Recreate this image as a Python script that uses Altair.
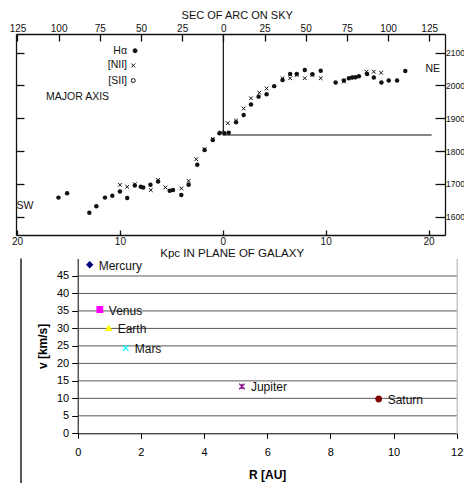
import altair as alt
import pandas as pd

# ---------------- data: top panel (mirrored scan of a rotation curve) ----------------
ha_kpc = [-15.97, -15.13, -12.97, -12.29, -11.45, -10.74, -10.0, -9.29, -8.55, -7.97,
          -7.74, -7.03, -6.29, -5.16, -4.84, -4.03, -3.32, -2.48, -1.77, -0.97,
          -0.32, 0.16, 0.58, 1.29, 2.03, 2.74, 3.48, 4.26, 5.0, 5.81,
          6.55, 7.19, 7.97, 8.71, 9.52, 10.97, 11.77, 12.26, 12.58, 12.9,
          13.23, 14.03, 14.68, 15.42, 16.13, 16.94, 17.74]
ha_v = [1658, 1671, 1612, 1632, 1658, 1664, 1677, 1657, 1695, 1691,
        1689, 1697, 1707, 1679, 1681, 1666, 1697, 1758, 1803, 1834,
        1854, 1854, 1856, 1888, 1910, 1942, 1966, 1973, 1998, 2017,
        2035, 2035, 2047, 2034, 2045, 2009, 2015, 2022, 2024, 2025,
        2028, 2035, 2024, 2009, 2015, 2015, 2044]
nii_kpc = [-10.0, -9.29, -8.55, -7.0, -6.29, -5.58, -4.03, -3.32, -2.58, -1.77,
           -0.97, -0.16, 0.48, 1.29, 2.03, 2.74, 3.55, 4.26, 5.81, 6.55,
           7.19, 7.97, 8.71, 9.52, 11.77, 12.74, 13.97, 14.68, 15.39]
nii_v = [1697, 1691, 1699, 1681, 1712, 1689, 1686, 1709, 1775, 1806,
         1837, 1857, 1885, 1893, 1930, 1961, 1978, 1991, 2022, 2022,
         2032, 2022, 2032, 2022, 2012, 2025, 2042, 2042, 2039]
kpc_ticks = [-20, -10, 0, 10, 20]
arc_ticks = [-125, -100, -75, -50, -25, 0, 25, 50, 75, 100, 125]
vel_ticks = [1600, 1700, 1800, 1900, 2000, 2100]
systemic_v = 1849
hline_kpc = [0.0, 20.3]
vline_top_v = 2157

ann_text = ["MAJOR AXIS", "NE", "SW"]
ann_arc = [-88.5, 127.2, -120.4]
ann_v = [1966, 2050, 1633]
legend_text = ["H\u03b1", "[NII]", "[SII]"]
legend_text_arc = [-58.5, -58.5, -58.5]
legend_sym_arc = [-53.6, -54.7, -54.7]
legend_v = [2106, 2061, 2015]

# ---------------- data: bottom panel (planet velocities) ----------------
planets = ["Mercury", "Venus", "Earth", "Mars", "Jupiter", "Saturn"]
r_au = [0.38, 0.70, 0.98, 1.52, 5.2, 9.53]
v_kms = [48.2, 35.4, 30.1, 24.4, 13.4, 9.8]
planet_colors = ["#000080", "#FF00FF", "#FFFF00", "#00FFFF", "#800080", "#800000"]
r_ticks = [0, 2, 4, 6, 8, 10, 12]
v_ticks = [0, 5, 10, 15, 20, 25, 30, 35, 40, 45]
grid_v = [5, 10, 15, 20, 25, 30, 35, 40, 45]
frame_r = [-1.795]
frame_v = [50, -16]

# ---------------- layout / style ----------------
W, H = 456, 475
INK = "#111111"
SANS = "Liberation Sans"
XPATH = "M-1,-1L1,1M-1,1L1,-1"
STAR = "M-1,-1L1,1M-1,1L1,-1M0,-1L0,1"
planet_shapes = ["diamond", "square", "triangle-up", XPATH, STAR, "circle"]

KPC = alt.Scale(domain=[-20.1, 21.6], range=[8, 437], nice=False, zero=False)
ARC = alt.Scale(domain=[-125.9, 134.6], range=[8, 437], nice=False, zero=False)
VEL = alt.Scale(domain=[1544, 2157], range=[227, 26], nice=False, zero=False)
RAU = alt.Scale(domain=[0, 12], range=[69.7, 448.7], nice=False, zero=False)
VKM = alt.Scale(domain=[0, 50], range=[425.3, 250.5], nice=False, zero=False)

ABS = "'' + abs(datum.value)"

# ---- bottom panel ----
grid_df = pd.DataFrame({"v": grid_v, "r0": [r_ticks[0]] * len(grid_v),
                        "r1": [r_ticks[-1]] * len(grid_v)})
grid = alt.Chart(grid_df).mark_rule(color="#5a5a5a", strokeWidth=1).encode(
    x=alt.X("r0:Q", scale=RAU, axis=None),
    x2="r1:Q",
    y=alt.Y("v:Q", scale=VKM, axis=None),
)

pl_df = pd.DataFrame({"planet": planets, "R": r_au, "v": v_kms})
pts = alt.Chart(pl_df).mark_point(filled=True, opacity=1, size=32, strokeWidth=1.2).encode(
    x=alt.X("R:Q", scale=RAU, axis=alt.Axis(
        orient="bottom", offset=425.3 - H, values=r_ticks, tickSize=5, tickColor="#000",
        domainColor="#000", grid=False, labelFont=SANS, labelFontSize=11, labelColor="#000",
        labelPadding=8, labelFlush=False, title="R [AU]", titleFont=SANS, titleFontSize=12,
        titleFontWeight="bold", titleColor="#000", titlePadding=12)),
    y=alt.Y("v:Q", scale=VKM, axis=alt.Axis(
        orient="left", offset=-69.7, values=v_ticks, tickSize=6, tickColor="#000",
        domainColor="#000", grid=False,
        labelFont=SANS, labelFontSize=11, labelColor="#000", labelPadding=3,
        labelFlush=False, title="v [km/s]", titleFont=SANS, titleFontSize=12,
        titleFontWeight="bold", titleColor="#000", titlePadding=7)),
    shape=alt.Shape("planet:N", scale=alt.Scale(domain=planets, range=planet_shapes), legend=None),
    fill=alt.Fill("planet:N", scale=alt.Scale(domain=planets, range=planet_colors), legend=None),
    stroke=alt.Stroke("planet:N", scale=alt.Scale(domain=planets, range=planet_colors), legend=None),
)
lbl = alt.Chart(pl_df).mark_text(align="left", baseline="middle", dx=9, dy=1, font=SANS,
                                 fontSize=12, color="#111").encode(
    x=alt.X("R:Q", scale=RAU, axis=None),
    y=alt.Y("v:Q", scale=VKM, axis=None),
    text="planet:N",
)
frame_df = pd.DataFrame({"R": frame_r, "v0": [frame_v[0]], "v1": [frame_v[1]]})
frame = alt.Chart(frame_df).mark_rule(color="#000", strokeWidth=1.3).encode(
    x=alt.X("R:Q", scale=RAU, axis=None),
    y=alt.Y("v0:Q", scale=VKM, axis=alt.Axis(
        orient="right", offset=448.7 - W, labels=False, ticks=False, domain=True,
        domainColor="#a8a8a8", domainWidth=1, grid=False, title=None)),
    y2="v1:Q",
)

# ---- top panel ----
ha_df = pd.DataFrame({"kpc": ha_kpc, "v": ha_v})
nii_df = pd.DataFrame({"kpc": nii_kpc, "v": nii_v})

dots = alt.Chart(ha_df).mark_circle(size=20, color=INK, opacity=1).encode(
    x=alt.X("kpc:Q", scale=KPC, axis=alt.Axis(
        orient="bottom", offset=227 - H, values=kpc_ticks, labelExpr=ABS,
        ticks=False, tickSize=0, domain=False, grid=False,
        labelFont=SANS, labelFontSize=10, labelColor=INK, labelPadding=1, labelFlush=False,
        title="Kpc IN PLANE OF GALAXY", titleFont=SANS, titleFontSize=11.5,
        titleFontWeight="normal", titleColor=INK, titleX=223.7, titleY=18,
        titleBaseline="middle", titleAlign="center")),
    y=alt.Y("v:Q", scale=VEL, axis=alt.Axis(
        orient="right", offset=437 - W, values=vel_ticks, format="d",
        ticks=False, tickSize=0, domain=True, domainColor=INK, domainWidth=1.3, grid=False,
        labelFont=SANS, labelFontSize=8.5, labelColor=INK, labelPadding=0.5,
        labelBaseline="middle", labelFlush=False, title=None)),
)
xs = alt.Chart(nii_df).mark_point(shape=XPATH, size=14, strokeWidth=1, color=INK,
                                  opacity=1, filled=False).encode(
    x=alt.X("kpc:Q", scale=KPC, axis=None),
    y=alt.Y("v:Q", scale=VEL, axis=None),
)

hline_df = pd.DataFrame({"x0": [hline_kpc[0]], "x1": [hline_kpc[1]], "v": [systemic_v]})
hline = alt.Chart(hline_df).mark_rule(color=INK, strokeWidth=1.2).encode(
    x=alt.X("x0:Q", scale=KPC, axis=alt.Axis(
        orient="top", offset=-227, values=kpc_ticks, labels=False,
        ticks=True, tickSize=5, tickWidth=1.3, tickColor=INK,
        domain=True, domainColor=INK, domainWidth=1.3, grid=False, title=None)),
    x2="x1:Q",
    y=alt.Y("v:Q", scale=VEL, axis=alt.Axis(
        orient="left", offset=-437, values=vel_ticks, labels=False,
        ticks=True, tickSize=10, tickWidth=1.3, tickColor=INK,
        domain=False, grid=False, title=None)),
)

vline_df = pd.DataFrame({"arc": [0.0], "v0": [vline_top_v], "v1": [systemic_v]})
vline = alt.Chart(vline_df).mark_rule(color=INK, strokeWidth=1.2).encode(
    x=alt.X("arc:Q", scale=ARC, axis=alt.Axis(
        orient="top", offset=-26, values=arc_ticks, labelExpr=ABS,
        ticks=False, tickSize=0, domain=True, domainColor=INK, domainWidth=1.3, grid=False,
        labelFont=SANS, labelFontSize=10, labelColor=INK, labelPadding=1, labelFlush=False,
        title="SEC OF ARC ON SKY", titleFont=SANS, titleFontSize=11,
        titleFontWeight="normal", titleColor=INK, titleX=228.7, titleY=-19,
        titleBaseline="middle", titleAlign="center")),
    y=alt.Y("v0:Q", scale=VEL, axis=alt.Axis(
        orient="right", offset=8 - W, values=vel_ticks, labels=False,
        ticks=True, tickSize=8, tickWidth=1.3, tickColor=INK,
        domain=True, domainColor=INK, domainWidth=1.3, grid=False, title=None)),
    y2="v1:Q",
)

ann_df = pd.DataFrame({"text": ann_text, "arc": ann_arc, "v": ann_v})
ann = alt.Chart(ann_df).mark_text(font=SANS, fontSize=10.5, color=INK, align="center",
                                  baseline="middle").encode(
    x=alt.X("arc:Q", scale=ARC, axis=alt.Axis(
        orient="bottom", offset=26 - H, values=arc_ticks, labels=False,
        ticks=True, tickSize=7, tickWidth=1.3, tickColor=INK,
        domain=False, grid=False, title=None)),
    y=alt.Y("v:Q", scale=VEL, axis=None),
    text="text:N",
)
leg_df = pd.DataFrame({"text": legend_text, "arc": legend_text_arc, "v": legend_v,
                       "arc_sym": legend_sym_arc})
leg_text = alt.Chart(leg_df).mark_text(font=SANS, fontSize=10.5, color=INK, align="right",
                                       baseline="middle").encode(
    x=alt.X("arc:Q", scale=ARC, axis=None),
    y=alt.Y("v:Q", scale=VEL, axis=None),
    text="text:N",
)
leg_sym = alt.Chart(leg_df).mark_point(filled=False, color=INK, opacity=1, size=16,
                                       strokeWidth=1).encode(
    x=alt.X("arc_sym:Q", scale=ARC, axis=None),
    y=alt.Y("v:Q", scale=VEL, axis=None),
    shape=alt.Shape("text:N", scale=alt.Scale(domain=legend_text,
                                              range=["circle", XPATH, "circle"]), legend=None),
    fill=alt.Fill("text:N", scale=alt.Scale(domain=legend_text,
                                            range=[INK, "transparent", "#ffffff"]), legend=None),
)

chart = alt.layer(grid, pts, lbl, frame, dots, xs, hline, vline, ann, leg_text,
                  leg_sym).resolve_scale(
    x="independent", y="independent", shape="independent", fill="independent",
    stroke="independent"
).properties(
    width=W, height=H, padding=0,
    autosize=alt.AutoSizeParams(type="none"),
    background="white",
).configure_view(stroke=None)

chart.save("out.html", embed_options={"renderer": "svg", "actions": False})
